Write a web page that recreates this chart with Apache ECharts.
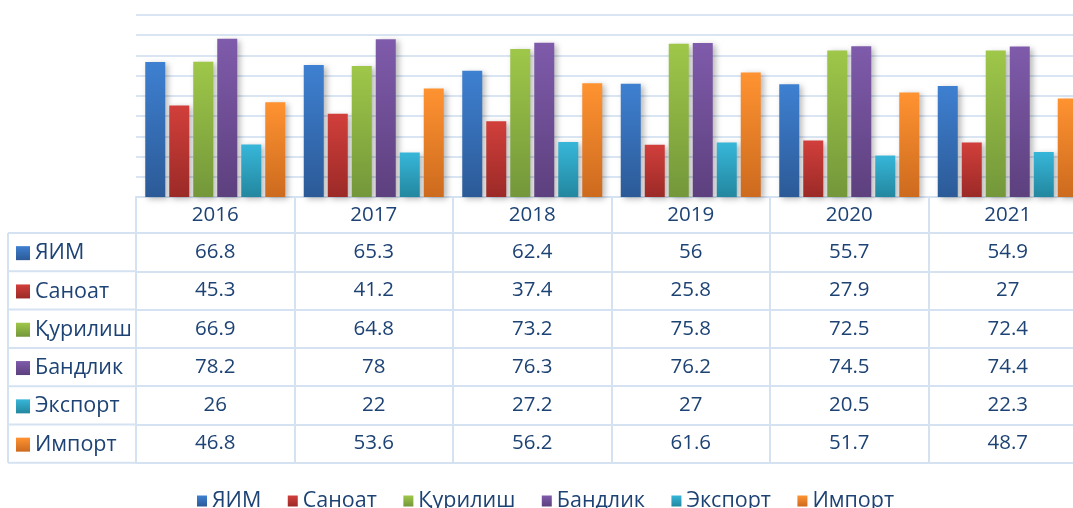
<!DOCTYPE html>
<html>
<head>
<meta charset="utf-8">
<script src="https://cdn.jsdelivr.net/npm/echarts@6/dist/echarts.min.js"></script>
<style>
html,body{margin:0;padding:0;background:#fff;}
#c{width:1073px;height:508px;}
</style>
</head>
<body>
<div id="c"></div>
<script>
const years = ['2016', '2017', '2018', '2019', '2020', '2021'];
const seriesNames = ['ЯИМ', 'Саноат', 'Қурилиш', 'Бандлик', 'Экспорт', 'Импорт'];
const yim      = [66.8, 65.3, 62.4, 56, 55.7, 54.9];
const sanoat   = [45.3, 41.2, 37.4, 25.8, 27.9, 27];
const qurilish = [66.9, 64.8, 73.2, 75.8, 72.5, 72.4];
const bandlik  = [78.2, 78, 76.3, 76.2, 74.5, 74.4];
const eksport  = [26, 22, 27.2, 27, 20.5, 22.3];
const importV  = [46.8, 53.6, 56.2, 61.6, 51.7, 48.7];
const seriesData = [yim, sanoat, qurilish, bandlik, eksport, importV];

const colorsTop = ['#3e80d1', '#d13f3b', '#9fc749', '#7f5bab', '#37b6d9', '#ff9331'];
const colorsBot = ['#2c5a97', '#9b2a27', '#73973a', '#5d407e', '#23879f', '#cc6a1e'];

const FONT = 'Open Sans';
const TXT = '#1d4274';
const LINE = '#d5e2f2';
const gridBottomY = 197;
const headerH = 36;
const rowH = 38.3;
const tableLeft = 8;
const gridLeft = 136;
const gridWidth = 951;

function grad(i) {
  return new echarts.graphic.LinearGradient(0, 0, 0, 1, [
    {offset: 0, color: colorsTop[i]},
    {offset: 1, color: colorsBot[i]}
  ]);
}

const xAxes = [{
  type: 'category',
  data: years,
  position: 'bottom',
  gridIndex: 0,
  axisLine: {show: true, lineStyle: {color: LINE, width: 2}},
  axisTick: {show: true, alignWithLabel: false, interval: 0, length: headerH, lineStyle: {color: LINE, width: 2}},
  axisLabel: {show: true, interval: 0, color: TXT, fontFamily: FONT, fontSize: 20.5, verticalAlign: 'middle', margin: headerH / 2}
}];
for (let r = 0; r < seriesData.length; r++) {
  const vals = seriesData[r];
  xAxes.push({
    type: 'category',
    data: years,
    position: 'bottom',
    gridIndex: 0,
    offset: headerH + rowH * r,
    axisLine: {show: true, lineStyle: {color: LINE, width: 2}},
    axisTick: {show: true, alignWithLabel: false, interval: 0, length: rowH, lineStyle: {color: LINE, width: 2}},
    axisLabel: {show: true, interval: 0, color: TXT, fontFamily: FONT, fontSize: 20.5, verticalAlign: 'middle', margin: rowH / 2,
      formatter: function (v, idx) { return String(vals[idx]); }}
  });
}
xAxes.push({
  type: 'category',
  data: years,
  position: 'bottom',
  gridIndex: 0,
  offset: headerH + rowH * seriesData.length,
  axisLine: {show: true, lineStyle: {color: LINE, width: 2}},
  axisTick: {show: false},
  axisLabel: {show: false}
});

const series = seriesData.map((d, i) => ({
  name: seriesNames[i],
  type: 'bar',
  xAxisIndex: 0,
  data: d,
  barWidth: 20,
  barGap: '20%',
  itemStyle: {
    color: grad(i),
    shadowColor: 'rgba(0,0,0,0.28)',
    shadowBlur: 6,
    shadowOffsetX: 3,
    shadowOffsetY: 2
  }
}));

const graphics = [];
for (let r = 0; r <= seriesData.length; r++) {
  const y = gridBottomY + headerH + rowH * r;
  graphics.push({type: 'line', shape: {x1: tableLeft, y1: y, x2: gridLeft, y2: y}, style: {stroke: LINE, lineWidth: 2}, silent: true});
}
graphics.push({type: 'line', shape: {x1: tableLeft, y1: gridBottomY + headerH, x2: tableLeft, y2: gridBottomY + headerH + rowH * seriesData.length}, style: {stroke: LINE, lineWidth: 2}, silent: true});

const chart = echarts.init(document.getElementById('c'), null, {renderer: 'canvas'});
chart.setOption({
  animation: false,
  backgroundColor: '#fff',
  grid: {left: gridLeft, width: gridWidth, top: 15, bottom: 508 - gridBottomY, outerBoundsMode: 'none', containLabel: false},
  xAxis: xAxes,
  yAxis: {
    type: 'value', min: 0, max: 90, interval: 10,
    axisLine: {show: false}, axisTick: {show: false}, axisLabel: {show: false},
    splitLine: {show: true, lineStyle: {color: '#d9e5f3', width: 2}}
  },
  legend: [{
    orient: 'vertical',
    left: 16,
    top: gridBottomY + headerH + rowH / 2 - 11,
    padding: 0,
    itemWidth: 14, itemHeight: 14,
    itemGap: rowH - 24,
    icon: 'rect',
    selectedMode: false,
    textStyle: {color: TXT, fontFamily: FONT, fontSize: 21.5, lineHeight: 24},
    data: seriesNames
  }, {
    orient: 'horizontal',
    left: 197,
    top: 489,
    padding: 0,
    itemWidth: 10, itemHeight: 11,
    itemGap: 26.5,
    icon: 'rect',
    selectedMode: false,
    textStyle: {color: TXT, fontFamily: FONT, fontSize: 21.5, lineHeight: 24},
    data: seriesNames
  }],
  graphic: graphics,
  series: series
});
</script>
</body>
</html>
